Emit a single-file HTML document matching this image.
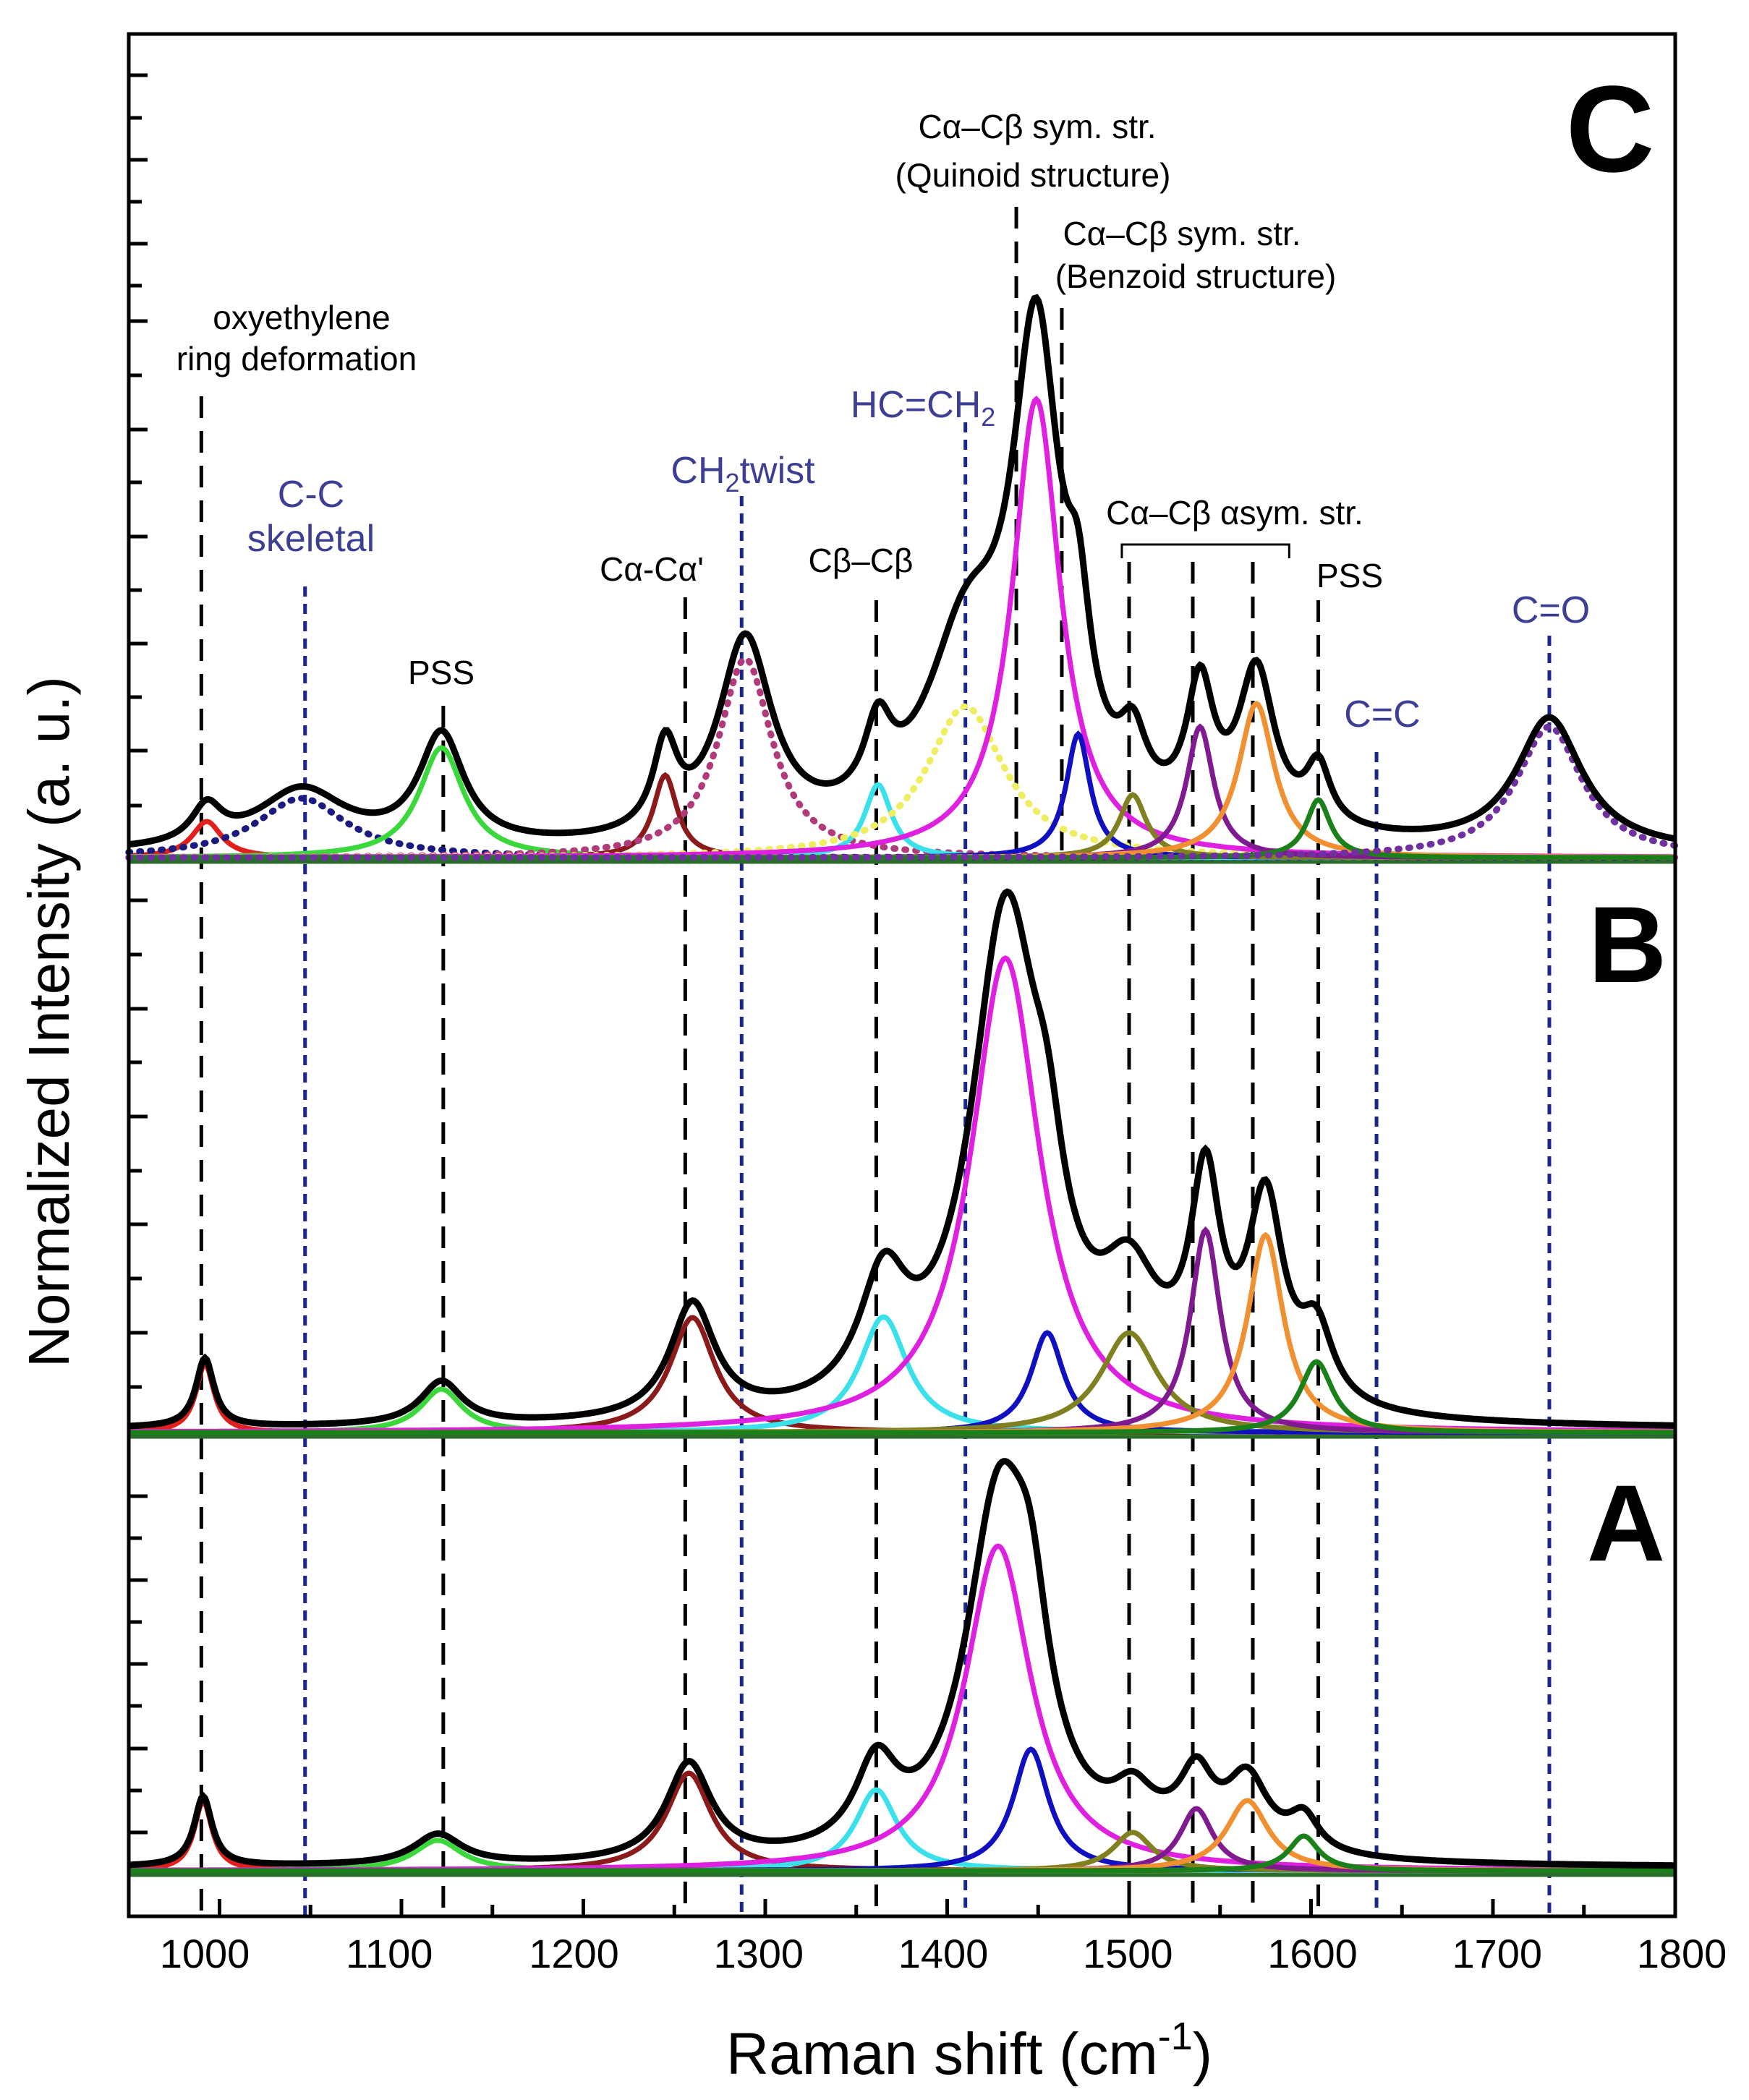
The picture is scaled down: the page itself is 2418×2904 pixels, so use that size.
<!DOCTYPE html>
<html><head><meta charset="utf-8">
<style>
html,body{margin:0;padding:0;background:#fff;}
svg{display:block;}
text{font-family:"Liberation Sans",Arial,sans-serif;}
</style></head>
<body>
<svg id="s" width="2418" height="2904" viewBox="0 0 2418 2904" xmlns="http://www.w3.org/2000/svg">
<rect width="2418" height="2904" fill="#fff"/>
<g id="lines"></g>
<g id="curves"></g>
<g id="axes"></g>
<g id="texts" font-family="Liberation Sans, Arial, sans-serif">
<text x="417" y="455" font-size="46" text-anchor="middle">oxyethylene</text>
<text x="410" y="512" font-size="46" text-anchor="middle">ring deformation</text>
<text x="430" y="701" font-size="52" text-anchor="middle" fill="#3c3f93">C-C</text>
<text x="430" y="762" font-size="52" text-anchor="middle" fill="#3c3f93">skeletal</text>
<text x="610" y="946" font-size="46" text-anchor="middle">PSS</text>
<text x="901" y="803" font-size="46" text-anchor="middle">Cα-Cα'</text>
<text x="1027" y="668" font-size="52" text-anchor="middle" fill="#3c3f93">CH<tspan font-size="36" dy="12">2</tspan><tspan dy="-12">twist</tspan></text>
<text x="1190" y="791" font-size="46" text-anchor="middle">Cβ–Cβ</text>
<text x="1276" y="577" font-size="52" text-anchor="middle" fill="#3c3f93">HC=CH<tspan font-size="36" dy="12">2</tspan></text>
<text x="1434" y="191" font-size="46" text-anchor="middle">Cα–Cβ sym. str.</text>
<text x="1428" y="258" font-size="46" text-anchor="middle">(Quinoid structure)</text>
<text x="1634" y="339" font-size="46" text-anchor="middle">Cα–Cβ sym. str.</text>
<text x="1653" y="398" font-size="46" text-anchor="middle">(Benzoid structure)</text>
<text x="1707" y="725" font-size="46" text-anchor="middle">Cα–Cβ αsym. str.</text>
<text x="1866" y="812" font-size="46" text-anchor="middle">PSS</text>
<text x="1911" y="1005" font-size="52" text-anchor="middle" fill="#3c3f93">C=C</text>
<text x="2144" y="861" font-size="52" text-anchor="middle" fill="#3c3f93">C=O</text>
<text x="2226" y="237" font-size="170" font-weight="bold" text-anchor="middle">C</text>
<text x="2250" y="1358" font-size="150" font-weight="bold" text-anchor="middle">B</text>
<text x="2248" y="2158" font-size="150" font-weight="bold" text-anchor="middle">A</text>
<text x="1340" y="2868" font-size="82" text-anchor="middle">Raman shift (cm<tspan font-size="54" dy="-34">-1</tspan><tspan dy="34">)</tspan></text>
<text transform="translate(95,1413) rotate(-90)" font-size="80" text-anchor="middle">Normalized Intensity (a. u.)</text>
</g>
</svg>
<script>
var NS="http://www.w3.org/2000/svg";
function X(v){return 555+(v-1100)*2.515;}
function el(p,n,a){var e=document.createElementNS(NS,n);for(var k in a)e.setAttribute(k,a[k]);document.getElementById(p).appendChild(e);return e;}
var vl=[[990,548,2650,0],[1047,811,2650,1],[1123,976,2650,0],[1256,826,2650,0],[1287,686,2650,1],[1361,830,2650,0],[1410,584,2650,1],[1438,286,1190,0],[1463,426,1190,0],[1500,777,2650,0],[1535,777,2650,0],[1568,777,2650,0],[1604,830,2650,0],[1636,1040,2650,1],[1731,879,2650,1]];
vl.forEach(function(l){var x=X(l[0]);
 if(l[3]) el("lines","line",{x1:x,y1:l[1],x2:x,y2:l[2],stroke:"#1a2590","stroke-width":5,"stroke-dasharray":"14 10"});
 else el("lines","line",{x1:x,y1:l[1],x2:x,y2:l[2],stroke:"#000","stroke-width":5,"stroke-dasharray":"30 18"});});
el("lines","path",{d:"M"+X(1496)+",772 L"+X(1496)+",753 L"+X(1588)+",753 L"+X(1588)+",772",fill:"none",stroke:"#000","stroke-width":3});
var C={red:"#e0201c",navy:"#1a1a80",lg:"#3ad83a",mar:"#8b1a1a",pink:"#b03a7a",cy:"#3ae0ea",yel:"#eeee60",mag:"#e020e0",bl:"#1010c0",ol:"#808020",pu:"#801a90",or:"#f09030",dg:"#1a801a",pud:"#7030a0"};
var panels=[
 {b:1190,comp:[["red",993,50,10],["navy",1045,82,30,1],["lg",1122,152,15],["mar",1245,114,8],["pink",1289,275,18,1],["cy",1362,101,9],["yel",1410,209,26,1],["mag",1449,634,16],["bl",1472,171,8],["ol",1502,87,9],["pu",1539,181,9],["or",1570,213,12],["dg",1604,80,8],["pud",1731,181,22,1]],hid:[[1420,55,45],[1590,10,60]]},
 {b:1985,comp:[["red",992,95,6],["lg",1122,60,14],["mar",1260,159,15],["cy",1365,160,16],["mag",1432,656,23],["bl",1455,138,11],["ol",1500,138,19],["pu",1542,280,10],["or",1575,273,12],["dg",1603,98,11]],hid:[[1440,35,30],[1520,20,40]]},
 {b:2591,comp:[["red",991,96,6],["lg",1120,42,16],["mar",1258,135,15],["cy",1361,112,14],["mag",1428,449,22],["bl",1446,168,12],["ol",1502,53,13],["pu",1537,86,11],["or",1565,97,14],["dg",1596,48,10]],hid:[[1436,45,25],[1520,20,40]]}
];
function lor(v,c,a,w){var t=(v-c)/w;return a/(1+t*t);}
panels.forEach(function(P){
 var v0=950,v1=1800;
 el("curves","line",{x1:178,y1:P.b,x2:2316,y2:P.b,stroke:"#2a6a2a","stroke-width":9});
 P.comp.forEach(function(c){
  var d="";for(var v=v0;v<=v1;v+=1){var y=P.b-4-lor(v,c[1],c[2],c[3]);d+=(v==v0?"M":"L")+X(v).toFixed(1)+","+y.toFixed(1);}
  var a={d:d,fill:"none",stroke:C[c[0]],"stroke-width":7};
  if(c[4]){a["stroke-dasharray"]="2 13";a["stroke-linecap"]="round";a["stroke-width"]=9;}
  el("curves","path",a);});
 var d="";for(var v=v0;v<=v1;v+=1){var s=0;P.comp.forEach(function(c){s+=lor(v,c[1],c[2],c[3]);});P.hid.forEach(function(h){s+=lor(v,h[0],h[1],h[2]);});
  var y=P.b-8-s;d+=(v==v0?"M":"L")+X(v).toFixed(1)+","+y.toFixed(1);}
 el("curves","path",{d:d,fill:"none",stroke:"#000","stroke-width":9});
});
el("axes","rect",{x:178,y:47,width:2138,height:2603,fill:"none",stroke:"#000","stroke-width":5});
var yt=[104,163,221,279,337,395,444,519,594,667,742,816,890,964,1038,1114,1245,1320,1395,1469,1544,1619,1693,1768,1843,1918,2069,2127,2185,2243,2301,2359,2418,2476,2534];
yt.forEach(function(y,i){el("axes","line",{x1:178,y1:y,x2:178+(i%2?18:26),y2:y,stroke:"#000","stroke-width":5});});
for(var v=1000;v<=1750;v+=50){var x=X(v);el("axes","line",{x1:x,y1:2650,x2:x,y2:2650-(v%100?16:24),stroke:"#000","stroke-width":5});}
for(var k=0;k<=8;k++){var t=el("axes","text",{x:283+k*255.25,y:2721,"font-size":56,"text-anchor":"middle","font-family":"Liberation Sans, Arial, sans-serif"});t.textContent=String(1000+k*100);}
</script>
</body></html>
